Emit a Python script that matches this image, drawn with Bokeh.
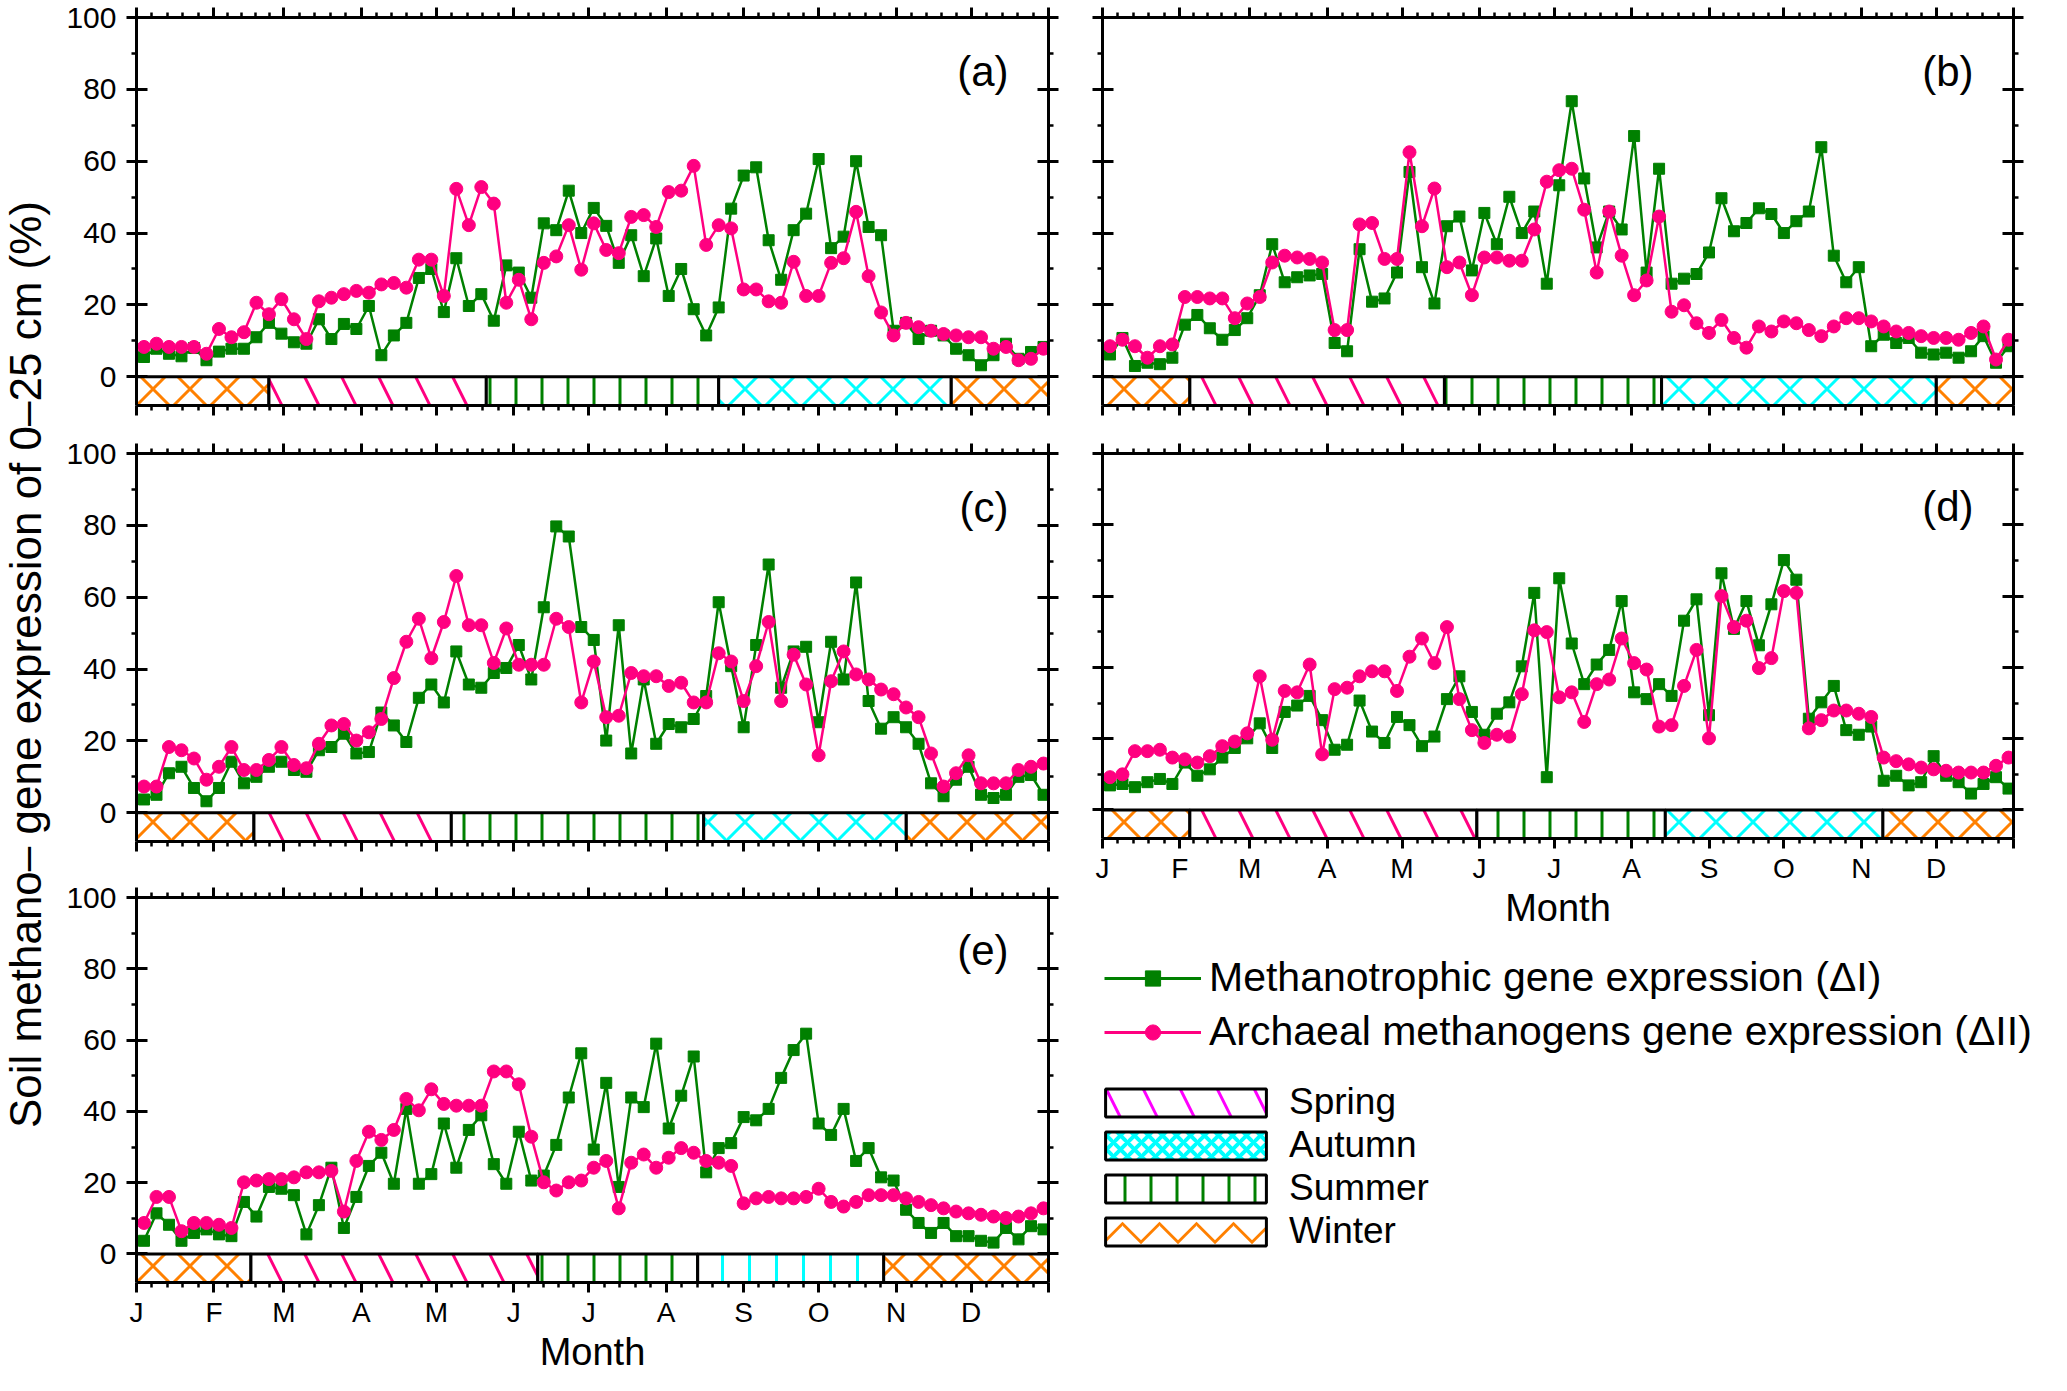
import numpy as np
from bokeh.plotting import figure
from bokeh.layouts import row, column
from bokeh.models import (FixedTicker, LinearAxis, Range1d, Label, Legend, LegendItem,
                          CustomLabelingPolicy)
from bokeh.embed import file_html
from bokeh.resources import INLINE

FONT = "Liberation Sans"
GREEN = "#008000"
PINK = "#FF0080"
ORANGE = "#FF8000"
CYAN = "#00FFFF"

# pentad mid-days of the year
days = list(range(3, 366, 5))

month_start = [0, 31, 59, 90, 120, 151, 181, 212, 243, 273, 304, 334, 365]
month_letters = ["J", "F", "M", "A", "M", "J", "J", "A", "S", "O", "N", "D"]

# (a)
metha_a = [5.5, 7.8, 6.4, 5.7, 8.0, 4.6, 7.0, 7.8, 7.8, 11.0, 15.0, 12.0, 9.6, 9.2, 16.0, 10.5, 14.7, 13.3,
           19.7, 6.0, 11.5, 15.0, 27.5, 30.0, 18.0, 33.0, 19.7, 23.0, 15.6, 31.0, 29.0, 22.0, 42.7, 40.8,
           51.8, 40.0, 47.0, 42.0, 31.7, 39.4, 28.0, 38.5, 22.5, 30.0, 18.8, 11.5, 19.3, 46.8, 56.0, 58.3,
           38.0, 27.0, 40.8, 45.4, 60.6, 35.8, 39.0, 60.0, 41.7, 39.4, 12.8, 15.0, 10.5, 12.8, 11.5, 7.8,
           6.0, 3.2, 6.0, 9.2, 5.0, 6.9, 8.3]
arch_a = [8.3, 9.2, 8.3, 8.3, 8.3, 6.4, 13.3, 11.0, 12.4, 20.6, 17.4, 21.6, 16.0, 10.5, 21.0, 22.0, 23.0,
          23.9, 23.4, 25.7, 26.1, 24.8, 32.6, 32.6, 22.5, 52.3, 42.2, 52.8, 48.2, 20.6, 27.0, 16.0, 31.7,
          33.5, 42.2, 29.8, 42.7, 35.3, 34.4, 44.5, 45.0, 41.7, 51.4, 51.8, 58.7, 36.7, 42.2, 41.3, 24.3,
          24.3, 21.0, 20.6, 32.0, 22.5, 22.5, 31.7, 33.0, 45.9, 28.0, 17.9, 11.5, 15.0, 13.8, 12.8, 11.9,
          11.5, 11.0, 11.0, 7.8, 8.3, 4.6, 5.0, 7.8]
# (b)
metha_b = [6.2, 10.8, 3.0, 3.9, 3.5, 5.3, 14.5, 17.2, 13.5, 10.3, 13.0, 16.3, 22.7, 36.9, 26.3, 27.7, 28.2,
           28.6, 9.4, 7.1, 35.5, 20.9, 21.8, 29.0, 57.0, 30.5, 20.4, 41.9, 44.6, 29.6, 45.6, 36.9, 50.1,
           40.0, 46.0, 25.9, 53.3, 76.7, 55.2, 36.0, 46.0, 41.0, 67.0, 29.0, 57.9, 25.9, 27.3, 28.6, 34.6,
           49.7, 40.5, 42.8, 46.9, 45.3, 40.0, 43.3, 46.0, 63.9, 33.7, 26.3, 30.5, 8.5, 11.7, 9.4, 10.8,
           6.7, 6.2, 6.7, 5.3, 7.1, 11.3, 3.9, 8.5]
arch_b = [8.5, 10.3, 8.5, 5.3, 8.5, 9.0, 22.2, 22.2, 21.8, 21.8, 16.3, 20.4, 22.2, 31.8, 33.7, 33.2, 32.8,
          31.8, 13.0, 13.0, 42.4, 42.8, 32.8, 32.8, 62.5, 41.9, 52.4, 30.5, 31.8, 22.7, 33.2, 33.2, 32.3,
          32.3, 41.0, 54.3, 57.5, 57.9, 46.5, 29.0, 46.0, 33.7, 22.7, 26.8, 44.6, 18.1, 19.9, 14.9, 12.2,
          15.8, 10.8, 8.1, 14.0, 12.6, 15.4, 14.9, 13.0, 11.3, 14.0, 16.3, 16.3, 15.4, 14.0, 12.6, 12.2,
          11.3, 10.8, 10.8, 10.3, 12.2, 14.0, 4.8, 10.3]
# (c)
metha_c = [3.7, 5.0, 11.0, 12.8, 6.9, 3.2, 6.9, 14.2, 8.2, 10.0, 12.8, 14.2, 11.9, 11.4, 17.4, 18.3, 22.0,
           16.5, 16.9, 27.9, 24.3, 19.7, 32.0, 35.7, 30.7, 44.9, 35.7, 34.8, 38.9, 40.3, 46.7, 37.1, 57.2,
           79.7, 76.9, 51.7, 48.1, 20.1, 52.2, 16.5, 37.1, 19.2, 24.7, 23.8, 26.1, 32.5, 58.6, 40.8, 23.8,
           46.7, 69.1, 34.8, 44.9, 46.2, 25.2, 47.6, 37.1, 64.1, 31.1, 23.4, 26.6, 23.8, 19.2, 8.2, 4.6,
           9.2, 12.8, 5.0, 4.1, 5.0, 10.0, 10.5, 5.0]
arch_c = [7.3, 7.3, 18.3, 17.4, 15.1, 9.2, 12.8, 18.3, 11.9, 11.9, 14.7, 18.3, 13.3, 12.4, 19.2, 24.3, 24.7,
          20.1, 22.4, 26.1, 37.5, 47.6, 54.0, 43.0, 53.1, 65.9, 52.2, 52.2, 41.7, 51.3, 41.2, 41.2, 41.2,
          54.0, 51.7, 30.7, 42.1, 26.6, 27.0, 38.9, 38.0, 38.0, 35.3, 36.2, 30.7, 30.7, 44.4, 42.1, 31.1,
          40.8, 53.1, 31.1, 44.0, 35.7, 16.0, 36.6, 44.9, 38.5, 37.1, 34.3, 33.0, 29.3, 26.6, 16.5, 7.3,
          11.0, 16.0, 8.2, 8.2, 8.2, 11.9, 12.8, 13.7]
# (d)
metha_d = [6.9, 7.3, 6.4, 7.8, 8.7, 7.3, 13.3, 9.6, 11.4, 14.7, 17.4, 20.1, 24.3, 17.4, 27.5, 29.3, 32.0,
           25.2, 16.9, 18.3, 30.7, 22.0, 18.8, 26.1, 23.8, 17.9, 20.6, 31.1, 37.5, 27.5, 21.1, 27.0, 30.2,
           40.3, 60.9, 9.2, 65.0, 46.7, 35.3, 40.8, 44.9, 58.6, 33.0, 31.1, 35.3, 32.0, 53.1, 59.1, 26.6,
           66.4, 50.8, 58.6, 46.2, 57.7, 70.1, 64.6, 25.6, 30.2, 34.8, 22.4, 21.1, 23.4, 8.2, 9.6, 6.9,
           7.8, 15.1, 9.6, 7.8, 4.6, 7.3, 9.2, 6.0]
arch_d = [9.2, 10.0, 16.5, 16.5, 16.9, 14.7, 14.2, 13.3, 15.1, 17.9, 19.2, 21.5, 37.5, 19.7, 33.4, 33.0,
          40.8, 15.6, 33.9, 34.3, 37.5, 38.9, 38.9, 33.4, 43.0, 48.1, 41.2, 51.3, 31.1, 22.4, 18.8, 21.1,
          20.6, 32.5, 50.4, 49.9, 31.6, 33.0, 24.7, 35.3, 36.6, 48.1, 41.2, 39.4, 23.4, 23.8, 34.8, 44.9,
          20.1, 60.0, 51.3, 53.1, 39.8, 42.6, 61.4, 60.9, 22.9, 25.2, 27.9, 27.9, 27.0, 26.1, 14.7, 13.7,
          12.8, 11.9, 11.4, 11.0, 10.5, 10.5, 10.5, 12.4, 14.7]
# (e)
metha_e = [3.7, 11.4, 8.2, 3.7, 5.9, 6.9, 5.5, 5.0, 14.6, 10.5, 18.8, 18.3, 16.5, 5.5, 13.7, 24.2, 7.3,
           16.0, 24.7, 28.4, 19.7, 40.7, 19.7, 22.4, 36.6, 24.2, 34.8, 38.9, 25.2, 19.7, 34.3, 20.6, 22.0,
           30.6, 43.9, 56.3, 29.3, 48.0, 18.8, 43.9, 41.2, 59.0, 35.2, 44.4, 55.4, 22.9, 29.7, 31.1, 38.4,
           37.5, 40.7, 49.4, 57.2, 61.8, 36.6, 33.4, 40.7, 26.1, 29.7, 21.5, 20.6, 12.4, 8.7, 5.9, 8.7,
           5.0, 5.0, 3.7, 3.2, 7.3, 4.1, 7.8, 6.9]
arch_e = [8.7, 16.0, 16.0, 6.4, 8.7, 8.7, 8.2, 7.3, 20.1, 20.6, 21.0, 21.0, 21.5, 22.9, 22.9, 23.3, 11.9,
          26.1, 34.3, 32.0, 34.8, 43.5, 40.3, 46.2, 42.1, 41.6, 41.6, 41.6, 51.2, 51.2, 47.6, 32.9, 20.1,
          17.8, 20.1, 20.6, 24.2, 26.1, 12.8, 25.6, 27.9, 24.2, 27.0, 29.7, 28.4, 26.1, 25.6, 24.7, 14.2,
          15.6, 16.0, 15.6, 15.6, 16.0, 18.3, 14.6, 13.3, 14.6, 16.5, 16.5, 16.5, 15.6, 14.6, 13.7, 12.8,
          11.9, 11.4, 11.0, 10.5, 10.1, 10.5, 11.4, 12.8]

# season strip boundaries (day of year) and season of each segment
bounds_a = [0, 53, 140, 233, 326, 365]
bounds_b = [0, 35, 137, 224, 334, 365]
bounds_c = [0, 47, 126, 227, 308, 365]
bounds_d = [0, 35, 150, 225.5, 312.6, 365]
bounds_e = [0, 45.8, 160.6, 224.6, 299, 365]
seasons = ["winter", "spring", "summer", "autumn", "winter"]
seasons_e = ["winter", "spring", "summer", "autumn_v", "winter"]

STRIP = {
    "winter": dict(hatch_pattern="x", hatch_color=ORANGE, hatch_scale=37, hatch_weight=3),
    "spring": dict(hatch_pattern="\\", hatch_color=PINK, hatch_scale=74, hatch_weight=3),
    "summer": dict(hatch_pattern="|", hatch_color=GREEN, hatch_scale=26, hatch_weight=3),
    "autumn": dict(hatch_pattern="x", hatch_color=CYAN, hatch_scale=37, hatch_weight=3),
    "autumn_v": dict(hatch_pattern="|", hatch_color=CYAN, hatch_scale=27, hatch_weight=3),
}

minor_x = []
for s, e in zip(month_start[:-1], month_start[1:]):
    minor_x += [s + (e - s) * i / 5 for i in range(1, 5)]
x_overrides = {m: l for m, l in zip(month_start, month_letters)}
x_overrides[365] = ""

NO_LABELS = "for (const i of indices) { indices.unset(i) }\nreturn indices"


def hide_labels(ax):
    ax.major_label_text_font_size = "1px"
    ax.major_label_standoff = 0
    ax.major_label_policy = CustomLabelingPolicy(code=NO_LABELS)


def make_panel(name, metha, arch, bounds, kinds, y_labels, x_labels, width, height,
               b_left, b_right, b_top, b_bottom):
    p = figure(width=width, height=height, x_range=Range1d(0, 365), y_range=Range1d(-8, 100),
               toolbar_location=None, output_backend="svg",
               x_axis_location=None, y_axis_location=None,
               min_border_left=b_left, min_border_right=b_right,
               min_border_top=b_top, min_border_bottom=b_bottom)
    p.outline_line_color = None
    p.grid.visible = False

    for side in ["left", "right"]:
        ax = LinearAxis(ticker=FixedTicker(ticks=[0, 20, 40, 60, 80, 100], minor_ticks=[10, 30, 50, 70, 90]))
        ax.axis_line_width = 3
        ax.major_tick_line_width = 3
        ax.minor_tick_line_width = 2.5
        ax.major_tick_in = 11
        ax.major_tick_out = 10
        ax.minor_tick_in = 0
        ax.minor_tick_out = 5
        ax.major_label_text_font = FONT
        ax.major_label_text_color = "black"
        if side == "left" and y_labels:
            ax.major_label_text_font_size = "30px"
            ax.major_label_standoff = 10
        else:
            hide_labels(ax)
        p.add_layout(ax, side)

    for side in ["below", "above"]:
        ax = LinearAxis(ticker=FixedTicker(ticks=month_start, minor_ticks=minor_x),
                        major_label_overrides=x_overrides)
        ax.axis_line_width = 3
        ax.major_tick_line_width = 3
        ax.minor_tick_line_width = 2.5
        ax.major_tick_in = 0
        ax.major_tick_out = 10
        ax.minor_tick_in = 0
        ax.minor_tick_out = 5
        ax.major_label_text_font = FONT
        ax.major_label_text_color = "black"
        if side == "below" and x_labels:
            ax.major_label_text_font_size = "28px"
            ax.major_label_standoff = 4
            ax.axis_label = "Month"
            ax.axis_label_text_font = FONT
            ax.axis_label_text_font_size = "38px"
            ax.axis_label_text_font_style = "normal"
            ax.axis_label_text_color = "black"
            ax.axis_label_standoff = 0
        else:
            hide_labels(ax)
        p.add_layout(ax, side)

    # season strip
    for season, style in STRIP.items():
        idx = [i for i, k in enumerate(kinds) if k == season]
        if not idx:
            continue
        p.quad(left=[bounds[i] for i in idx], right=[bounds[i + 1] for i in idx], bottom=-8, top=0,
               fill_color="white", line_color="black", line_width=3, **style)

    p.line(days, metha, line_color=GREEN, line_width=2.5)
    p.scatter(days, metha, marker="square", size=11, color=GREEN)
    p.line(days, arch, line_color=PINK, line_width=2.5)
    p.scatter(days, arch, marker="circle", size=13, color=PINK)

    p.add_layout(Label(x=349, y=85, text=name, text_align="right", text_baseline="middle",
                       text_font=FONT, text_font_size="42px", text_color="black"))
    return p


LW, RW = 1008, 965
fa = make_panel("(a)", metha_a, arch_a, bounds_a, seasons, True, False, LW, 433, 76, 20, 17, 28)
fc = make_panel("(c)", metha_c, arch_c, bounds_c, seasons, True, False, LW, 444, 76, 20, 20, 36)
fe = make_panel("(e)", metha_e, arch_e, bounds_e, seasons_e, True, True, LW, 498, 76, 20, 20, 90)
fb = make_panel("(b)", metha_b, arch_b, bounds_b, seasons, False, False, RW, 433, 34, 20, 17, 28)
fd = make_panel("(d)", metha_d, arch_d, bounds_d, seasons, False, True, RW, 498, 34, 20, 20, 90)

# shared y label
lab = figure(width=60, height=1375, x_range=Range1d(0, 1), y_range=Range1d(0, 1),
             toolbar_location=None, output_backend="svg",
             x_axis_location=None, y_axis_location=None, min_border=0)
lab.outline_line_color = None
lab.grid.visible = False
lab.add_layout(Label(x=25, y=711, x_units="screen", y_units="screen",
                     text="Soil methano\u2013 gene expression of 0\u201325 cm (%)",
                     angle=np.pi / 2, text_align="center", text_baseline="middle",
                     text_font=FONT, text_font_size="44px", text_color="black"))

# legend panel (proxy renderers carry no visible data)
leg = figure(width=983, height=444, x_range=Range1d(0, 1), y_range=Range1d(0, 1),
             toolbar_location=None, output_backend="svg",
             x_axis_location=None, y_axis_location=None, min_border=0)
leg.outline_line_color = None
leg.grid.visible = False
nan = [np.nan]
g_line = leg.line(nan, nan, line_color=GREEN, line_width=3)
g_pt = leg.scatter(nan, nan, marker="square", color=GREEN)
p_line = leg.line(nan, nan, line_color=PINK, line_width=3)
p_pt = leg.scatter(nan, nan, marker="circle", color=PINK)

box = dict(left=nan, right=nan, bottom=nan, top=nan, fill_color="white", line_color="black", line_width=3)
season_items = [
    ("Spring", dict(hatch_pattern="\\", hatch_color="#FF00FF", hatch_scale=74, hatch_weight=3), 252),
    ("Autumn", dict(hatch_pattern="x", hatch_color=CYAN, hatch_scale=14, hatch_weight=4), 209),
    ("Summer", dict(hatch_pattern="|", hatch_color=GREEN, hatch_scale=26, hatch_weight=3), 166),
    ("Winter", dict(hatch_pattern="v", hatch_color=ORANGE, hatch_scale=37, hatch_weight=3), 123),
]

legend1 = Legend(items=[LegendItem(label="Methanotrophic gene expression (\u0394I)", renderers=[g_line, g_pt]),
                        LegendItem(label="Archaeal methanogens gene expression (\u0394II)", renderers=[p_line, p_pt])],
                 location=(2, 320), glyph_width=97, glyph_height=38, label_standoff=8, spacing=7,
                 padding=0, margin=0, border_line_color=None, background_fill_alpha=0,
                 label_text_font=FONT, label_text_font_size="41px", label_text_color="black")
leg.add_layout(legend1, "center")

for label, style, ypos in season_items:
    r = leg.quad(**style, **box)
    lg = Legend(items=[LegendItem(label=label, renderers=[r])],
                location=(-17, ypos), glyph_width=201, glyph_height=35, label_standoff=3,
                padding=0, margin=0, border_line_color=None, background_fill_alpha=0,
                label_text_font=FONT, label_text_font_size="37px", label_text_color="black")
    leg.add_layout(lg, "center")

layout = row(lab, column(fa, fc, fe), column(fb, fd, leg))
open("out.html", "w").write(file_html(layout, INLINE))
